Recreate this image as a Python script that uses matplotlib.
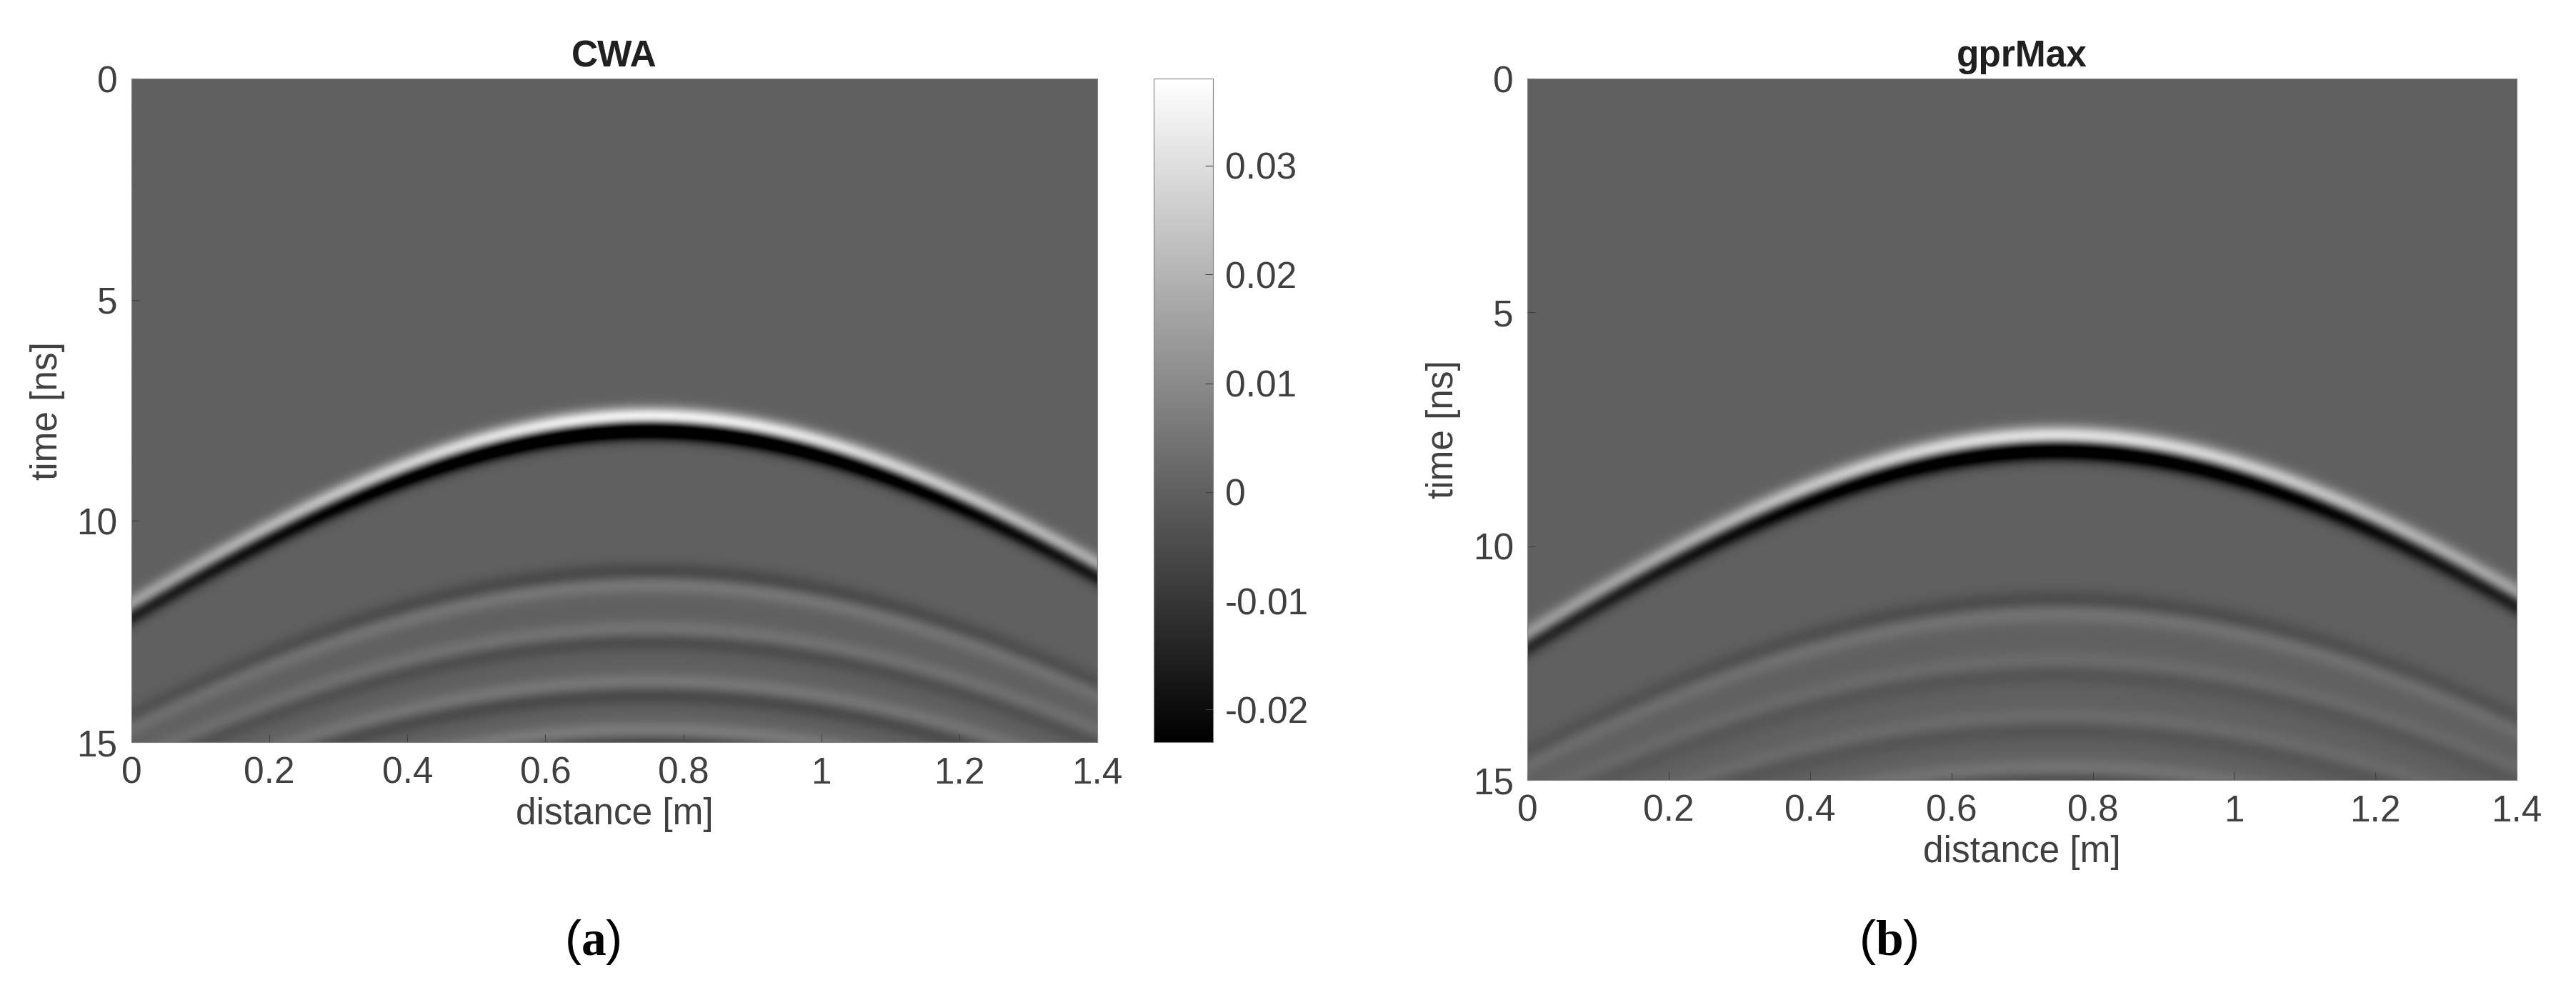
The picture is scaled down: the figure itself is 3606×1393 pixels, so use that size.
import numpy as np
import matplotlib.pyplot as plt

plt.rcParams['font.family'] = ['Liberation Sans', 'DejaVu Sans']
plt.rcParams['mathtext.fontset'] = 'custom'
plt.rcParams['mathtext.rm'] = 'Liberation Serif'
plt.rcParams['mathtext.bf'] = 'Liberation Serif:bold'

# survey geometry
x_max = 1.4          # m
t_max = 15.0         # ns
apex_x = 0.75        # m
velocity = 0.164     # m/ns

# reflectors: two-way time at apex [ns] and amplitude (CWA, gprMax)
apex_times = [7.8, 11.3, 12.6, 13.8, 14.9]
amp_cwa = [0.08, -0.012, 0.010, 0.012, 0.014]
amp_gpr = [0.07, -0.010, 0.006, 0.006, 0.010]
wavelet_width = 0.25  # ns

cbar_ticks = [-0.02, -0.01, 0, 0.01, 0.02, 0.03]
vmin, vmax = -0.023, 0.038
FS = 37


def radargram(amps):
    x = np.linspace(0, x_max, 400)
    t = np.linspace(0, t_max, 600)
    X, T = np.meshgrid(x, t)
    img = np.zeros_like(X)
    for t0, a in zip(apex_times, amps):
        th = np.sqrt(t0 ** 2 + (2 * (X - apex_x) / velocity) ** 2)
        tau = (T - th) / wavelet_width
        # amplitude decays away from apex
        decay = (t0 / th) ** 2
        img += -a * tau * np.exp(-tau ** 2) * decay
    return img


fig = plt.figure(figsize=(36.06, 13.93), dpi=100)
ax1 = fig.add_axes([0.051, 0.254, 0.375, 0.667])
cax = fig.add_axes([0.448, 0.254, 0.023, 0.667])
ax2 = fig.add_axes([0.593, 0.216, 0.384, 0.705])

for ax, amps, title in [(ax1, amp_cwa, 'CWA'), (ax2, amp_gpr, 'gprMax')]:
    im = ax.imshow(radargram(amps), cmap='gray', vmin=vmin, vmax=vmax,
                   extent=[0, x_max, t_max, 0], aspect='auto',
                   interpolation='bilinear')
    ax.set_title(title, fontsize=FS, fontweight='bold', color='#202020', pad=12)
    ax.set_xlabel('distance [m]', fontsize=FS, color='#404040', labelpad=6)
    ax.set_ylabel('time [ns]', fontsize=FS, color='#404040', labelpad=12)
    ax.set_xticks([0, 0.2, 0.4, 0.6, 0.8, 1, 1.2, 1.4])
    ax.set_xticklabels(['0', '0.2', '0.4', '0.6', '0.8', '1', '1.2', '1.4'])
    ax.set_yticks([0, 5, 10, 15])
    ax.tick_params(labelsize=FS, colors='#404040', direction='in', length=8, pad=14)
    for s in ax.spines.values():
        s.set_color('#808080')

cb = fig.colorbar(im, cax=cax, ticks=cbar_ticks)
cb.ax.set_yticklabels(['-0.02', '-0.01', '0', '0.01', '0.02', '0.03'])
cb.ax.tick_params(labelsize=FS, colors='#404040', direction='in', length=8, pad=12)
cb.outline.set_edgecolor('#808080')

fig.text(0.23, 0.04, r'($\mathbf{a}$)', fontsize=50, ha='center')
fig.text(0.733, 0.04, r'($\mathbf{b}$)', fontsize=50, ha='center')

fig.savefig('out.png', dpi=100)
